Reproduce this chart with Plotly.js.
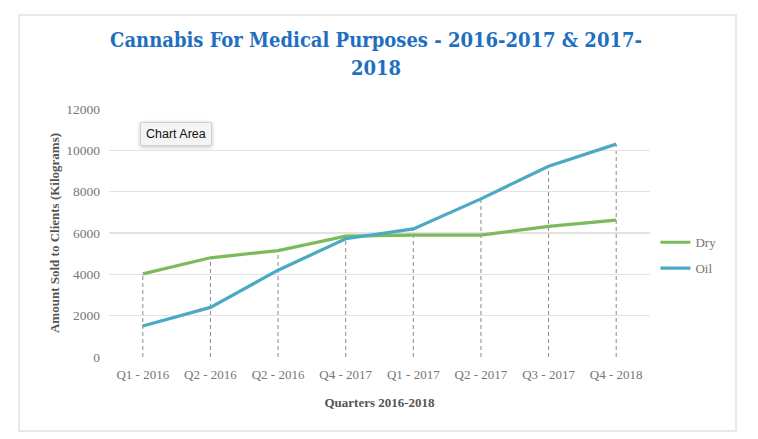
<!DOCTYPE html>
<html>
<head>
<meta charset="utf-8">
<script src="https://cdn.plot.ly/plotly-3.0.1.min.js"></script>
<style>
  html, body { margin: 0; padding: 0; background: #fff; }
  #wrap { position: relative; width: 758px; height: 439px; }
  #chart { width: 758px; height: 439px; }
  #frame { position: absolute; left: 18px; top: 14px; width: 715px; height: 414px;
           border: 2px solid #e8e8e8; pointer-events: none; }
  #tip { position: absolute; left: 140px; top: 122px; padding: 4px 5px 4px 5px;
         font-family: "Liberation Sans", Arial, sans-serif; font-size: 12.5px; color: #111;
         background: #f4f4f4; border: 1px solid #d0d0d0; border-radius: 2px;
         box-shadow: 0 1px 4px rgba(0,0,0,0.25); }
  #ttl { position: absolute; left: 0; top: 26px; width: 752px; text-align: center;
         font-family: "DejaVu Serif Condensed", "DejaVu Serif", serif; font-weight: bold;
         font-stretch: condensed;
         font-size: 20px; line-height: 28px; color: #1f6fc1; }
</style>
</head>
<body>
<div id="wrap">
  <div id="chart"></div>
  <div id="frame"></div>
  <div id="ttl"></div>
  <div id="tip">Chart Area</div>
</div>
<script>
const categories = ["Q1 - 2016", "Q2 - 2016", "Q2 - 2016 ", "Q4 - 2017", "Q1 - 2017", "Q2 - 2017", "Q3 - 2017", "Q4 - 2018"];
const dryValues = [4020, 4800, 5150, 5850, 5900, 5900, 6320, 6620];
const oilValues = [1500, 2400, 4200, 5720, 6200, 7650, 9230, 10300];
const yTicks = [0, 2000, 4000, 6000, 8000, 10000, 12000];
const chartTitle = ["Cannabis For Medical Purposes - 2016-2017 & 2017-", "2018"];

const serif = 'Liberation Serif';

document.getElementById("ttl").innerHTML = chartTitle.map(s => s.replace("&", "&amp;")).join("<br>");

const traces = [
  { x: categories, y: dryValues, name: "Dry", type: "scatter", mode: "lines", legendgroup: "a",
    line: { color: "#7cbb5b", width: 3.2 } },
  { x: categories, y: oilValues, name: "Oil", type: "scatter", mode: "lines", legendgroup: "b",
    line: { color: "#4aa9c3", width: 3.2 } }
];

const shapes = categories.map((c, i) => ({
  type: "line", xref: "x", yref: "y", x0: c, x1: c, y0: 0,
  y1: Math.max(dryValues[i], oilValues[i]),
  line: { color: "#8a8a8a", width: 1, dash: "4px,3px" }, layer: "below"
}));

const layout = {
  width: 758, height: 439,
  margin: { l: 109, r: 108, t: 109, b: 82 },
  font: { family: serif, color: "#767676" },
  paper_bgcolor: "#fff", plot_bgcolor: "#fff",
  xaxis: {
    type: "category", tickvals: categories, ticktext: categories.map(s => s.trim()),
    range: [-0.5, categories.length - 0.5],
    showgrid: false, zeroline: false, showline: false, ticks: "",
    ticklabelstandoff: 8,
    tickfont: { family: serif, size: 13, color: "#767676" },
    title: { text: "<b>Quarters 2016-2018</b>", font: { family: serif, size: 13, color: "#555" }, standoff: 16 },
    fixedrange: true
  },
  yaxis: {
    range: [0, 12000], tickvals: yTicks, ticktext: yTicks.map(String),
    showgrid: true, gridcolor: "#e3e3e3", gridwidth: 1.3, zeroline: false, showline: false,
    ticks: "", ticklabelstandoff: 8,
    tickfont: { family: serif, size: 13.5, color: "#767676" },
    title: { text: "<b>Amount Sold to Clients (Kilograms)</b>", font: { family: serif, size: 13, color: "#555" }, standoff: 3 },
    fixedrange: true
  },
  showlegend: true,
  legend: { x: 1.01, y: 0.41, xanchor: "left", yanchor: "middle",
            font: { family: serif, size: 13, color: "#767676" }, traceorder: "grouped",
            bgcolor: "rgba(0,0,0,0)", tracegroupgap: 6, itemwidth: 30 },
  shapes: shapes
};

Plotly.newPlot("chart", traces, layout, { displayModeBar: false, staticPlot: true });
</script>
</body>
</html>
